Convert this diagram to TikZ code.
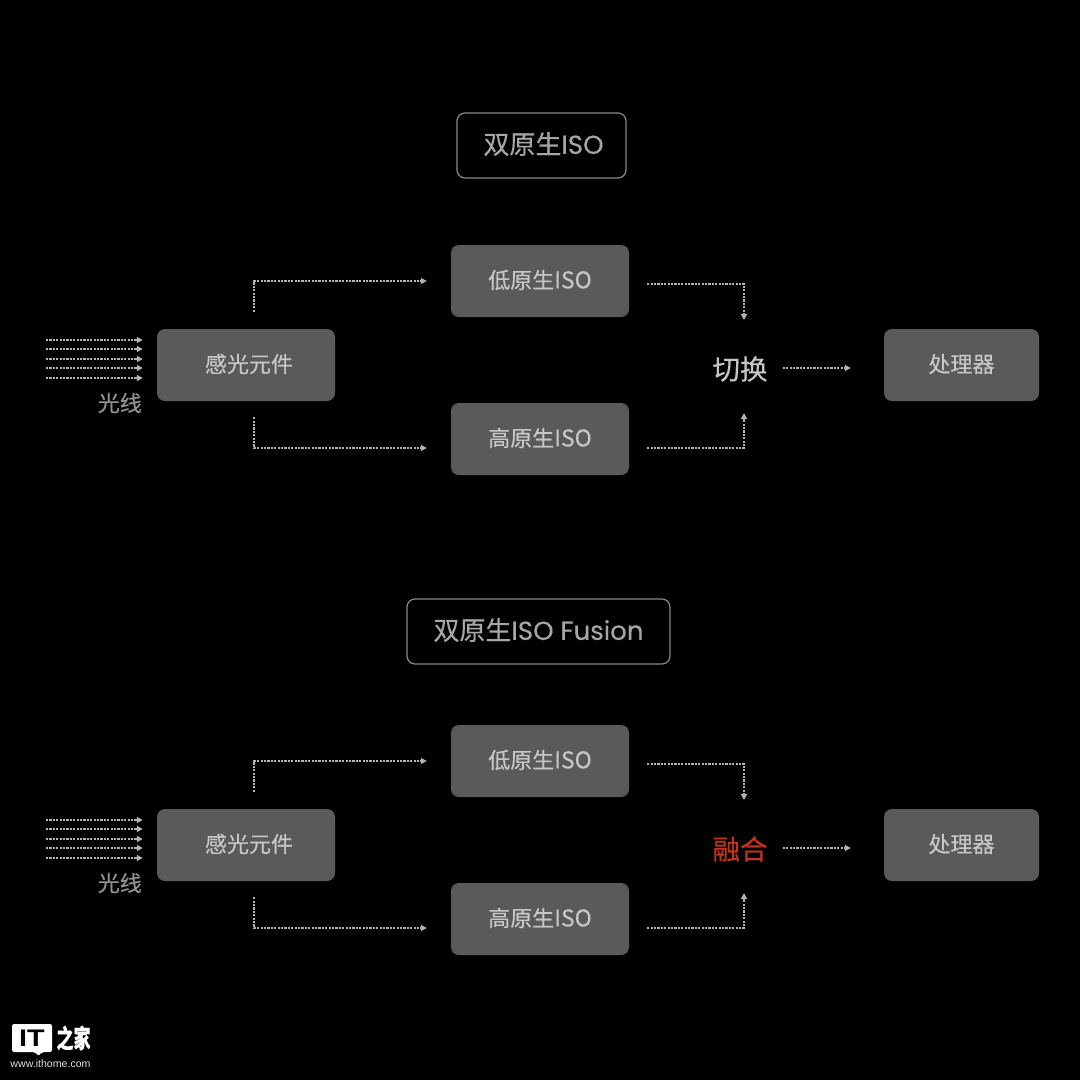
\documentclass[tikz,border=0pt]{standalone}
\usepackage{fontspec}
\setmainfont[FakeBold=0.35]{Poppins}
\newfontfamily\cjk[FakeBold=0.35]{Noto Sans CJK SC}
\newfontfamily\webfont{Liberation Sans}
\usetikzlibrary{arrows.meta,calc}
\definecolor{boxfill}{HTML}{5A5A5A}
\definecolor{boxtext}{HTML}{C6C6C6}
\definecolor{titletext}{HTML}{A6A6A6}
\definecolor{titleline}{HTML}{8A8A8A}
\definecolor{linecol}{HTML}{B4B4B4}
\definecolor{raylabel}{HTML}{929292}
\definecolor{fusionred}{HTML}{C4341C}
\tikzset{
  x=1pt,y=-1pt,
  blockbox/.style={draw=none,fill=boxfill,rounded corners=8pt,minimum height=72pt,text=boxtext,inner sep=0pt,font=\fontsize{22}{22}\selectfont\cjk},
  wideblock/.style={blockbox,minimum width=178pt},
  procblock/.style={blockbox,minimum width=155pt},
  titlebox/.style={draw=titleline,line width=1.2pt,rounded corners=8pt,minimum height=65pt,text=titletext,inner sep=0pt,font=\fontsize{26}{26}\selectfont\cjk},
  conn/.style={draw=linecol,line width=1.5pt,dash pattern=on 2.2pt off 1.2pt,-{Triangle[length=6pt,width=6pt,fill=linecol]}},
  ray/.style={conn},
  raytext/.style={text=raylabel,inner sep=0pt,font=\fontsize{22}{22}\selectfont\cjk},
  joinlabel/.style={inner sep=0pt,font=\fontsize{27.5}{27.5}\selectfont\cjk},
}
\newcommand{\liftby}[2]{\raisebox{#1}[\height][\depth]{#2}}
\newcommand{\isotext}[1]{\liftby{1pt}{{\cjk #1}{\fontsize{23}{23}\selectfont ISO}}}
\begin{document}
\begin{tikzpicture}
\useasboundingbox (0,0) rectangle (1080,1080);
\fill[black] (0,0) rectangle (1080,1080);

\node[titlebox,minimum width=169pt] (t1) at (541.5,145.5) {\hspace*{4pt}\liftby{1.5pt}{双原生{\fontsize{26}{26}\selectfont\normalfont ISO}}};
\node[titlebox,minimum width=263pt] (t2) at (538.5,631.5) {\liftby{1.5pt}{双原生{\fontsize{26}{26}\selectfont\normalfont ISO Fusion}}};

\foreach \p/\dy/\lab/\col in {a/0/切换/boxtext,b/480/融合/fusionred}{
  \begin{scope}[yshift={-\dy pt}]
  \node[wideblock] (\p s) at (246,365) {\hspace*{6pt}\liftby{1pt}{感光元件}};
  \node[wideblock] (\p l) at (540,281) {\isotext{低原生}};
  \node[wideblock] (\p h) at (540,439) {\isotext{高原生}};
  \node[procblock] (\p p) at (961.5,365) {\liftby{1pt}{处理器}};
  \node[joinlabel,text=\col] (\p m) at (740,369) {\lab};
  \node[raytext,anchor=east] (\p t) at (142,403) {光线};
  \foreach \ry/\rn in {340/1,349/2,359/3,368/4,378/5}{
    \coordinate (\p r\rn) at (46,\ry);
    \draw[ray] (\p r\rn) -- (\p r\rn -| \p s.west) [shorten >=14pt];
  }
  \coordinate (\p u) at (254,281);
  \coordinate (\p d) at (254,448);
  \coordinate (\p v) at (744,284);
  \coordinate (\p w) at (744,448);
  \draw[conn,shorten <=17pt] (\p u |- \p s.north) -- (\p u) -- (\p u -| \p l.west) [shorten >=24pt];
  \draw[conn,shorten <=16pt] (\p d |- \p s.south) -- (\p d) -- (\p d -| \p h.west) [shorten >=24pt];
  \draw[conn,shorten <=18pt] (\p v -| \p l.east) -- (\p v) -- (\p v |- \p m) [shorten >=49pt];
  \draw[conn,shorten <=18pt] (\p w -| \p h.east) -- (\p w) -- (\p w |- \p m) [shorten >=44pt];
  \coordinate (\p q) at (\p m.east |- 0,368);
  \draw[conn,shorten <=15pt] (\p q) -- (\p q -| \p p.west) [shorten >=33pt];
  \end{scope}
}

% site mark
\fill[white,rounded corners=2pt] (12,1024) -- (52,1024) -- (52,1052) -- (42,1052) -- (38.5,1056) -- (35,1052) -- (12,1052) -- cycle;
\node[inner sep=0pt,text=black,xscale=1.2,transform shape,font=\fontsize{24}{24}\selectfont\webfont\bfseries] (logoit) at (32,1038.5) {IT};
\node[inner sep=0pt,text=white,yscale=1.5,transform shape,font=\fontsize{17}{17}\selectfont\cjk\bfseries] (logocn) at (73.5,1038) {之家};
\node[inner sep=0pt,text=white!88!black,font=\fontsize{10.6}{10.6}\selectfont\webfont] (logoweb) at (50.5,1064) {www.ithome.com};
\end{tikzpicture}
\end{document}
